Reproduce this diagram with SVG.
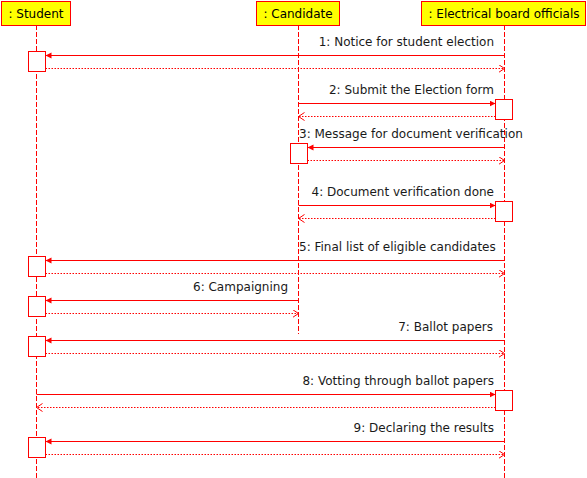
<svg xmlns="http://www.w3.org/2000/svg" width="587" height="478" viewBox="0 0 587 478">
<style>
.head{fill:#ffff00;stroke:#ff0000;stroke-width:1}
.life{stroke:#ff0000;stroke-width:1;stroke-dasharray:5,2;fill:none}
.act{fill:#ffffff;stroke:#ff0000;stroke-width:1}
.msg{stroke:#ff0000;stroke-width:1;fill:none;marker-end:url(#filled)}
.ret{stroke:#ff0000;stroke-width:1;fill:none;stroke-dasharray:1.5,1.5;marker-end:url(#open)}
text{font-family:"DejaVu Sans","Liberation Sans",sans-serif;font-size:12px;fill:#1a1a1a}
.ht{text-anchor:middle;fill:#000}
.r{text-anchor:end}
</style>
<defs>
<marker id="filled" markerUnits="userSpaceOnUse" markerWidth="8" markerHeight="8" refX="6" refY="3" orient="auto">
<path d="M0,0 L6,3 L0,6 z" fill="#ff0000"/>
</marker>
<marker id="open" markerUnits="userSpaceOnUse" markerWidth="8" markerHeight="10" refX="6" refY="4" orient="auto">
<path d="M0,0 L6,4 L0,8" fill="none" stroke="#ff0000" stroke-width="1"/>
</marker>
</defs>
<rect width="587" height="478" fill="#ffffff"/>
<g id="student">
<line class="life" x1="36.5" y1="25" x2="36.5" y2="478"/>
<rect class="head" x="1.5" y="1.5" width="69" height="24"/>
<text class="ht" x="36" y="18">: Student</text>
<rect class="act" x="28.5" y="51.5" width="17" height="20"/>
<rect class="act" x="28.5" y="256.5" width="17" height="20"/>
<rect class="act" x="28.5" y="296.5" width="17" height="20"/>
<rect class="act" x="28.5" y="336.5" width="17" height="20"/>
<rect class="act" x="28.5" y="437.5" width="17" height="20"/>
</g>
<g id="candidate">
<line class="life" x1="298.5" y1="25" x2="298.5" y2="334"/>
<rect class="head" x="256.5" y="1.5" width="83" height="24"/>
<text class="ht" x="298" y="18">: Candidate</text>
<rect class="act" x="290.5" y="143.5" width="17" height="20"/>
</g>
<g id="board">
<line class="life" x1="504.5" y1="25" x2="504.5" y2="478"/>
<rect class="head" x="421.5" y="1.5" width="164" height="24"/>
<text class="ht" x="504" y="18">: Electrical board officials</text>
<rect class="act" x="495.5" y="99.5" width="17" height="20"/>
<rect class="act" x="495.5" y="201.5" width="17" height="20"/>
<rect class="act" x="495.5" y="390.5" width="17" height="20"/>
</g>
<g id="connectors">
<line class="msg" x1="504.5" y1="55.5" x2="45.5" y2="55.5"/>
<line class="ret" x1="45.5" y1="68.5" x2="504.5" y2="68.5"/>
<text class="r" x="494" y="46">1: Notice for student election</text>

<line class="msg" x1="298.5" y1="103.5" x2="495.5" y2="103.5"/>
<line class="ret" x1="495.5" y1="116.5" x2="298.5" y2="116.5"/>
<text class="r" x="494" y="94">2: Submit the Election form</text>

<line class="msg" x1="504.5" y1="147.5" x2="307.5" y2="147.5"/>
<line class="ret" x1="307.5" y1="160.5" x2="504.5" y2="160.5"/>
<text x="299" y="138">3: Message for document verification</text>

<line class="msg" x1="298.5" y1="205.5" x2="495.5" y2="205.5"/>
<line class="ret" x1="495.5" y1="218.5" x2="298.5" y2="218.5"/>
<text class="r" x="494" y="196">4: Document verification done</text>

<line class="msg" x1="504.5" y1="260.5" x2="45.5" y2="260.5"/>
<line class="ret" x1="45.5" y1="273.5" x2="504.5" y2="273.5"/>
<text x="299" y="251">5: Final list of eligible candidates</text>

<line class="msg" x1="298.5" y1="300.5" x2="45.5" y2="300.5"/>
<line class="ret" x1="45.5" y1="313.5" x2="298.5" y2="313.5"/>
<text class="r" x="288" y="291">6: Campaigning</text>

<line class="msg" x1="504.5" y1="340.5" x2="45.5" y2="340.5"/>
<line class="ret" x1="45.5" y1="353.5" x2="504.5" y2="353.5"/>
<text class="r" x="493" y="331">7: Ballot papers</text>

<line class="msg" x1="36.5" y1="394.5" x2="495.5" y2="394.5"/>
<line class="ret" x1="495.5" y1="407.5" x2="36.5" y2="407.5"/>
<text class="r" x="494" y="385">8: Votting through ballot papers</text>

<line class="msg" x1="504.5" y1="441.5" x2="45.5" y2="441.5"/>
<line class="ret" x1="45.5" y1="454.5" x2="504.5" y2="454.5"/>
<text class="r" x="494" y="432">9: Declaring the results</text>
</g>
</svg>
